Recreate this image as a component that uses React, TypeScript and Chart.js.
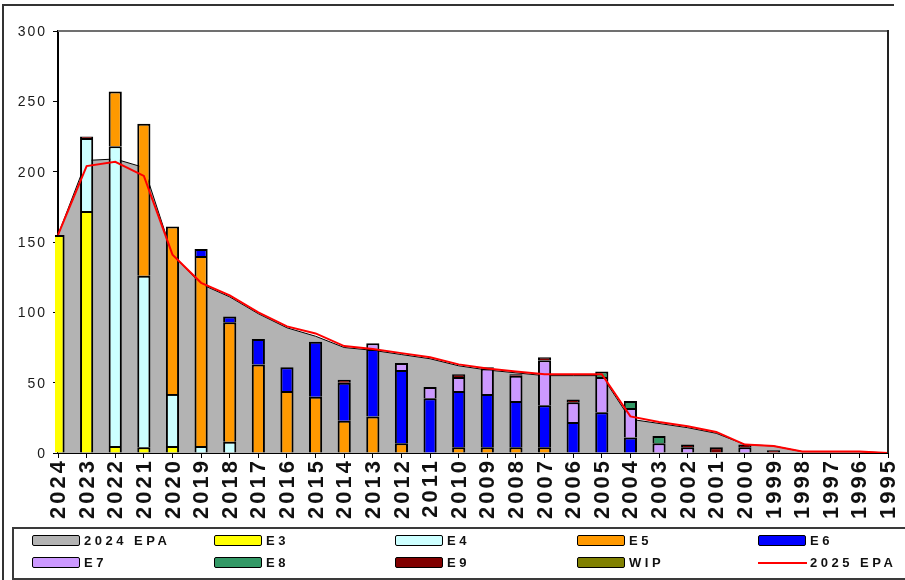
import React, { useEffect, useRef } from 'react';
import { Chart, registerables } from 'chart.js';

Chart.register(...registerables);

// ---------- DATA ----------
const years = [
  '2024', '2023', '2022', '2021', '2020', '2019', '2018', '2017', '2016', '2015',
  '2014', '2013', '2012', '2011', '2010', '2009', '2008', '2007', '2006', '2005',
  '2004', '2003', '2002', '2001', '2000', '1999', '1998', '1997', '1996', '1995',
];

const epa2024 = [
  155, 208, 209, 203, 141, 120, 111, 99, 89, 83,
  75, 73, 70, 67, 62, 59, 57, 55, 55, 55,
  24, 21, 18, 14, 6, 5, 1, 1, 1, 0,
];

const e3 = [
  155, 172, 5, 4, 5, 0, 0, 0, 0, 0,
  0, 0, 0, 0, 0, 0, 0, 0, 0, 0,
  0, 0, 0, 0, 0, 0, 0, 0, 0, 0,
];

const e4 = [
  0, 52, 213, 122, 37, 5, 8, 0, 0, 0,
  0, 0, 0, 0, 0, 0, 0, 0, 0, 0,
  0, 0, 0, 0, 0, 0, 0, 0, 0, 0,
];

const e5 = [
  0, 0, 39, 108, 119, 135, 85, 63, 44, 40,
  23, 26, 7, 0, 4, 4, 4, 4, 0, 0,
  0, 0, 0, 0, 0, 0, 0, 0, 0, 0,
];

const e6 = [
  0, 0, 0, 0, 0, 5, 4, 18, 17, 39,
  27, 48, 52, 39, 40, 38, 33, 30, 22, 29,
  11, 0, 0, 0, 0, 0, 0, 0, 0, 0,
];

const e7 = [
  0, 0, 0, 0, 0, 0, 0, 0, 0, 0,
  0, 4, 5, 8, 10, 18, 18, 32, 14, 25,
  21, 7, 4, 0, 4, 0, 0, 0, 0, 0,
];

const e8 = [
  0, 0, 0, 0, 0, 0, 0, 0, 0, 0,
  0, 0, 0, 0, 0, 0, 0, 0, 0, 4,
  5, 5, 0, 0, 0, 0, 0, 0, 0, 0,
];

const e9 = [
  0, 1, 0, 0, 0, 0, 0, 0, 0, 0,
  2, 0, 0, 0, 2, 1, 1, 2, 2, 0,
  0, 0, 2, 4, 2, 2, 0, 0, 0, 0,
];

const wip = [
  0, 0, 0, 0, 0, 0, 0, 0, 0, 0,
  0, 0, 0, 0, 0, 0, 0, 0, 0, 0,
  0, 0, 0, 0, 0, 0, 0, 0, 0, 0,
];

const epa2025 = [
  155, 204, 207, 197, 141, 121, 112, 100, 90, 85,
  76, 74, 71, 68, 63, 60, 58, 56, 56, 56,
  26, 22, 19, 15, 6, 5, 1, 1, 1, 0,
];

const yTicks = [0, 50, 100, 150, 200, 250, 300];

const barNames = ['E3', 'E4', 'E5', 'E6', 'E7', 'E8', 'E9', 'WIP'];
const barValues = [e3, e4, e5, e6, e7, e8, e9, wip];
const barColors = ['#FFFF00', '#CCFFFF', '#FF9900', '#0000FF', '#CC99FF', '#339966', '#800000', '#808000'];

const areaColor = '#B3B3B3';
const lineColor = '#FF0000';

const legendRows = [
  ['2024 EPA', 'E3', 'E4', 'E5', 'E6'],
  ['E7', 'E8', 'E9', 'WIP', '2025 EPA'],
];

const FONT = '"Liberation Sans", Arial, sans-serif';

const textPlugin = {
  id: 'customText',
  afterDraw(chart: any) {
    const ctx = chart.ctx as CanvasRenderingContext2D;
    const xs = chart.scales.x;
    const ys = chart.scales.y;
    const area = chart.chartArea;
    ctx.save();
    // plot area frame (top, right)
    ctx.lineWidth = 2;
    ctx.strokeStyle = '#707070';
    ctx.beginPath();
    ctx.moveTo(area.left, area.top);
    ctx.lineTo(area.right, area.top);
    ctx.stroke();
    ctx.strokeStyle = '#222';
    ctx.beginPath();
    ctx.moveTo(area.right, area.top - 1);
    ctx.lineTo(area.right, area.bottom);
    ctx.stroke();

    // y labels
    ctx.fillStyle = '#1a1a1a';
    ctx.font = `14px ${FONT}`;
    (ctx as any).letterSpacing = '2px';
    ctx.textAlign = 'right';
    ctx.textBaseline = 'middle';
    yTicks.forEach((v) => {
      ctx.fillText(String(v), area.left - 11, ys.getPixelForValue(v) + 1);
    });

    // x labels (rotated)
    ctx.font = `bold 22px ${FONT}`;
    (ctx as any).letterSpacing = '3px';
    ctx.fillStyle = '#111';
    years.forEach((label, i) => {
      const px = xs.getPixelForTick(i);
      ctx.save();
      ctx.translate(px + 1, area.bottom + 5);
      ctx.rotate(-Math.PI / 2);
      ctx.textAlign = 'right';
      ctx.textBaseline = 'middle';
      ctx.fillText(label, 0, 0);
      ctx.restore();
    });
    ctx.restore();
  },
};

export default function App() {
  const ref = useRef<HTMLCanvasElement>(null);

  useEffect(() => {
    const canvas = ref.current!;
    const barDatasets = barNames.map((name, i) => ({
      type: 'bar' as const,
      label: name,
      data: barValues[i],
      backgroundColor: barColors[i],
      borderColor: '#000',
      borderWidth: 2,
      borderSkipped: 'start',
      stack: 'bars',
      order: 2,
      barPercentage: 0.46,
      categoryPercentage: 1,
      clip: { left: 3, top: 0, right: 0, bottom: 0 },
    }));

    const chart = new Chart(canvas, {
      type: 'bar',
      data: {
        labels: years,
        datasets: [
          {
            type: 'line' as const,
            label: '2024 EPA',
            data: epa2024,
            backgroundColor: areaColor,
            borderColor: '#000',
            borderWidth: 1,
            fill: 'origin',
            pointRadius: 0,
            tension: 0,
            stack: 'area',
            order: 3,
          },
          ...barDatasets,
          {
            type: 'line' as const,
            label: '2025 EPA',
            data: epa2025,
            borderColor: lineColor,
            backgroundColor: lineColor,
            borderWidth: 2,
            fill: false,
            pointRadius: 0,
            tension: 0,
            stack: 'red',
            order: 1,
          },
        ] as any,
      },
      options: {
        animation: false,
        responsive: false,
        events: [],
        layout: { padding: { top: 31, right: 17, left: 0, bottom: 0 } },
        plugins: {
          legend: { display: false },
          tooltip: { enabled: false },
        },
        scales: {
          x: {
            type: 'category',
            offset: false,
            stacked: true,
            z: 1,
            grid: {
              display: true,
              drawOnChartArea: false,
              drawTicks: true,
              tickLength: 5,
              color: '#000',
              lineWidth: 1,
              offset: false,
            },
            border: { display: true, color: '#000', width: 2 },
            ticks: { display: false },
            afterFit: (s: any) => {
              s.height = 127;
            },
          },
          y: {
            min: 0,
            max: 300,
            stacked: true,
            z: 1,
            ticks: { display: false, stepSize: 50 },
            grid: {
              display: true,
              drawOnChartArea: false,
              drawTicks: true,
              tickLength: 5,
              color: '#000',
              lineWidth: 1,
            },
            border: { display: true, color: '#000', width: 2 },
            afterFit: (s: any) => {
              s.width = 58;
            },
          },
        },
      } as any,
      plugins: [textPlugin],
    });
    return () => chart.destroy();
  }, []);

  const colLeft = [32, 214, 395, 577, 758];
  const rowMid = [541, 563];
  const swatchStyle = (name: string): React.CSSProperties => {
    if (name === '2025 EPA') {
      return {
        position: 'absolute', width: 49, height: 2, background: lineColor, top: 5,
      };
    }
    const idx = barNames.indexOf(name);
    const color = name === '2024 EPA' ? areaColor : barColors[idx];
    return {
      position: 'absolute', width: 46, height: 9, top: 0, background: color,
      border: '1.5px solid #000', borderRadius: 2,
    };
  };

  return (
    <div
      style={{
        position: 'fixed', left: 0, top: 0, width: 905, height: 580,
        overflow: 'hidden', background: '#fff', fontFamily: FONT,
      }}
    >
      <canvas ref={ref} width={905} height={580} style={{ position: 'absolute', left: 0, top: 0 }} />
      {/* outer frame */}
      <div style={{ position: 'absolute', left: 2, top: 4, width: 2, height: 576, background: '#333' }} />
      <div style={{ position: 'absolute', left: 2, top: 4, width: 892, height: 2, background: '#333' }} />
      {/* legend box */}
      <div
        style={{
          position: 'absolute', left: 12, top: 527, width: 900, height: 49,
          border: '2px solid #3a3a3a', boxSizing: 'content-box',
        }}
      />
      {legendRows.map((row, r) =>
        row.map((name, c) => (
          <div
            key={name}
            style={{ position: 'absolute', left: colLeft[c], top: rowMid[r] - 6, height: 12, width: 180 }}
          >
            <div style={swatchStyle(name)} />
            <div
              style={{
                position: 'absolute', left: 52, top: -2, fontSize: 13, fontWeight: 'bold',
                letterSpacing: '3.5px', lineHeight: '16px', color: '#111', whiteSpace: 'nowrap',
              }}
            >
              {name}
            </div>
          </div>
        ))
      )}
    </div>
  );
}
